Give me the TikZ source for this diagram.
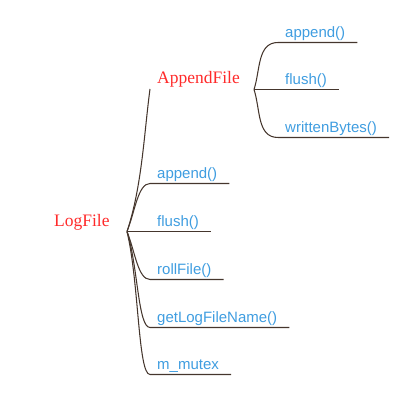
\documentclass[tikz,border=0pt]{standalone}
\usepackage{fontspec}
\setmainfont{Liberation Serif}
\setsansfont{Liberation Sans}
\usetikzlibrary{positioning,calc}
\definecolor{topred}{HTML}{FF2A2A}
\definecolor{leafblue}{HTML}{3F9DE0}
\definecolor{twig}{HTML}{45362D}
\tikzset{
  topic/.style ={anchor=base west, inner sep=0pt, text=topred, font=\fontsize{17.5}{18}\selectfont},
  leaf/.style  ={anchor=base west, inner sep=0pt, text=leafblue, font=\sffamily\fontsize{15}{16}\selectfont},
  br/.style    ={draw=twig, line width=1.05pt},
  up/.style    ={out=72, in=180},
  dn/.style    ={out=-72, in=180},
}
\begin{document}
\begin{tikzpicture}[x=1pt, y=1pt]
\useasboundingbox (0,0) rectangle (404,401);
%% ---------- roots ----------
\node[topic] (logfile) at (54,174) {LogFile};
\coordinate (logroot) at (127,169.5);
\node[topic] (appendfile) at (157,317) {AppendFile};
\coordinate (afroot) at (254,311.5);
%% ---------- LogFile members ----------
\node[leaf] (lappend) at (157,222) {append()};
\node[leaf] (lflush)  at (157,174) {flush()};
\node[leaf] (lroll)   at (157,126) {rollFile()};
\node[leaf] (lname)   at (157,78)  {getLogFileName()};
\node[leaf] (lmutex)  at (157,31)  {m\_mutex};
%% ---------- AppendFile members ----------
\node[leaf] (aappend) at (285,363) {append()};
\node[leaf] (aflush)  at (285,316) {flush()};
\node[leaf] (abytes)  at (285,268) {writtenBytes()};
%% ---------- branches ----------
\draw[br] (logroot) .. controls +(15,45) and +(-6,-45) .. ([shift={(-7pt,-5pt)}]appendfile.base west);
\draw[br] (logroot) .. controls +(8,20) and +(-12,0) .. ([shift={(-7pt,-4.5pt)}]lappend.base west) -- ([shift={(12pt,-4.5pt)}]lappend.base east);
\draw[br] (logroot) -- ([shift={(12pt,-4.5pt)}]lflush.base east);
\draw[br] (logroot) .. controls +(8,-20) and +(-12,0) .. ([shift={(-7pt,-4.5pt)}]lroll.base west) -- ([shift={(12pt,-4.5pt)}]lroll.base east);
\draw[br] (logroot) .. controls +(11,-35) and +(-12,0) .. ([shift={(-7pt,-4.5pt)}]lname.base west) -- ([shift={(12pt,-4.5pt)}]lname.base east);
\draw[br] (logroot) .. controls +(12,-50) and +(-12,0) .. ([shift={(-7pt,-4.5pt)}]lmutex.base west) -- ([shift={(12pt,-4.5pt)}]lmutex.base east);
% AppendFile fan
\draw[br] (afroot) to[up] ([shift={(-7pt,-4.5pt)}]aappend.base west) -- ([shift={(12pt,-4.5pt)}]aappend.base east);
\draw[br] (afroot) -- ([shift={(12pt,-4.5pt)}]aflush.base east);
\draw[br] (afroot) to[dn] ([shift={(-7pt,-4.5pt)}]abytes.base west) -- ([shift={(12pt,-4.5pt)}]abytes.base east);
\end{tikzpicture}
\end{document}
